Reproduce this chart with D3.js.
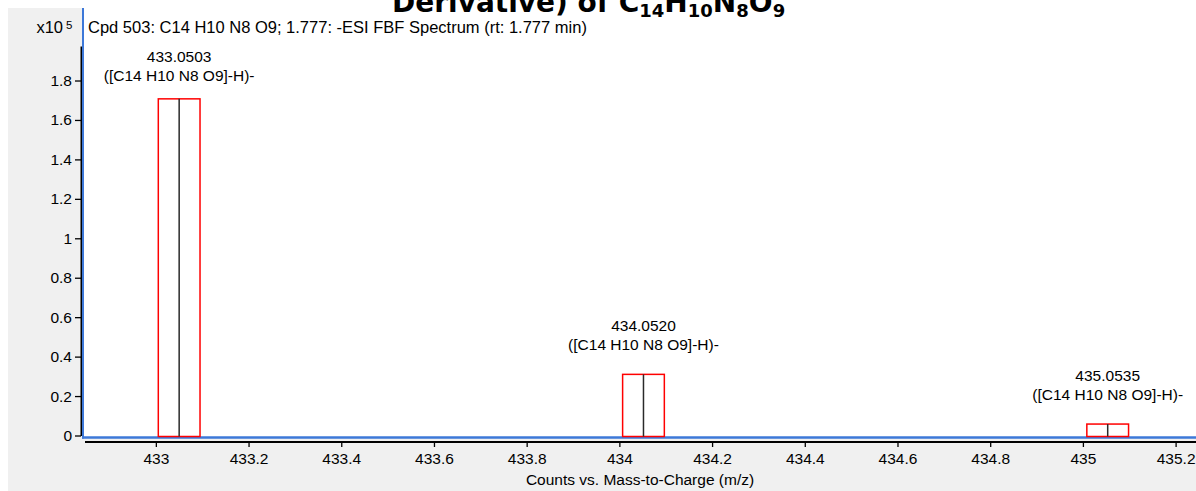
<!DOCTYPE html>
<html>
<head>
<meta charset="utf-8">
<script src="https://cdn.jsdelivr.net/npm/d3@7"></script>
<style>
  body { margin: 0; background: #fff; }
  svg { display: block; }
  text { font-family: "Liberation Sans", Arial, sans-serif; fill: #000; }
</style>
</head>
<body>
<svg id="chart" width="1196" height="491"></svg>
<script>
// Isotope peaks of the deprotonated ion
const peakMz = [433.0503, 434.0520, 435.0535];
const peakCounts = [1.707, 0.31, 0.058];          // counts x10^5
const peakMzLabels = ["433.0503", "434.0520", "435.0535"];
const peakIonLabels = ["([C14 H10 N8 O9]-H)-", "([C14 H10 N8 O9]-H)-", "([C14 H10 N8 O9]-H)-"];
const boxHalfWidth = 0.045;                        // m/z window of the expected isotope box

// Axis ranges and ticks
const xRange = [432.845, 435.244];
const yRange = [0, 1.975];
const xTicks = [433, 433.2, 433.4, 433.6, 433.8, 434, 434.2, 434.4, 434.6, 434.8, 435, 435.2];
const yTicks = [0, 0.2, 0.4, 0.6, 0.8, 1, 1.2, 1.4, 1.6, 1.8];

const plotTitle = "Cpd 503: C14 H10 N8 O9; 1.777: -ESI FBF Spectrum (rt: 1.777 min)";
const xAxisTitle = "Counts vs. Mass-to-Charge (m/z)";

const W = 1196, H = 491;
const svg = d3.select("#chart");

const panel = { left: 8, top: 8 };
const plot = { left: 84, top: 8, right: 1196, bottom: 437 };
const labelFont = "15.5px";

const x = d3.scaleLinear().domain(xRange).range([plot.left, plot.right]);
const y = d3.scaleLinear().domain(yRange).range([435.5, 46]);

// Window background
svg.append("rect")
  .attr("x", panel.left).attr("y", panel.top)
  .attr("width", W - panel.left).attr("height", H - panel.top)
  .attr("fill", "#f0f0f0");

svg.append("rect")
  .attr("x", plot.left).attr("y", plot.top)
  .attr("width", plot.right - plot.left).attr("height", plot.bottom - plot.top)
  .attr("fill", "#fff");

// Y axis
const yAxis = d3.axisLeft(y)
  .tickValues(yTicks)
  .tickFormat(d3.format(""))
  .tickSize(6)
  .tickSizeOuter(0)
  .tickPadding(3);
const gy = svg.append("g").attr("transform", "translate(81,0)").call(yAxis);
gy.select(".domain").attr("stroke", "#000").attr("stroke-width", 2);
gy.selectAll(".tick line").attr("stroke", "#000").attr("stroke-width", 1.3);
gy.selectAll(".tick text").style("font-size", labelFont).attr("fill", "#000");

// X axis
const xAxis = d3.axisBottom(x)
  .tickValues(xTicks)
  .tickFormat(d3.format(""))
  .tickSize(5)
  .tickSizeOuter(0)
  .tickPadding(6);
const gx = svg.append("g").attr("transform", "translate(0,442)").call(xAxis);
gx.select(".domain").attr("stroke", "#000").attr("stroke-width", 2)
  .attr("d", `M${plot.left + 1},0H${plot.right}`);
gx.selectAll(".tick line").attr("stroke", "#000").attr("stroke-width", 1.3);
gx.selectAll(".tick text").style("font-size", labelFont).attr("fill", "#000");

// Blue frame of the plot area
svg.append("line")
  .attr("x1", 83).attr("x2", 83).attr("y1", plot.top).attr("y2", plot.bottom + 1.5)
  .attr("stroke", "#3d78d8").attr("stroke-width", 2);
svg.append("line")
  .attr("x1", 82).attr("x2", plot.right).attr("y1", plot.bottom + 0.5).attr("y2", plot.bottom + 0.5)
  .attr("stroke", "#3d78d8").attr("stroke-width", 2.5);

// Titles
svg.append("text")
  .attr("x", 88).attr("y", 33)
  .style("font-size", "16.5px")
  .text(plotTitle);

svg.append("text")
  .attr("x", 63).attr("y", 33)
  .attr("text-anchor", "end")
  .style("font-size", "16.5px")
  .text("x10");
svg.append("text")
  .attr("x", 66).attr("y", 29)
  .style("font-size", "11.5px")
  .text("5");

svg.append("text")
  .attr("x", (plot.left + plot.right) / 2).attr("y", 485)
  .attr("text-anchor", "middle")
  .style("font-size", labelFont)
  .text(xAxisTitle);

// Peaks: expected isotope box with the measured line inside
const peaks = peakMz.map((mz, i) => ({
  mz, count: peakCounts[i], mzLabel: peakMzLabels[i], ion: peakIonLabels[i]
}));

const gp = svg.append("g");
gp.selectAll("rect.box").data(peaks).join("rect")
  .attr("class", "box")
  .attr("x", d => x(d.mz - boxHalfWidth))
  .attr("y", d => y(d.count))
  .attr("width", d => x(d.mz + boxHalfWidth) - x(d.mz - boxHalfWidth))
  .attr("height", d => y(0) + 1 - y(d.count))
  .attr("fill", "none")
  .attr("stroke", "#ff0000")
  .attr("stroke-width", 1.5);

gp.selectAll("line.stick").data(peaks).join("line")
  .attr("class", "stick")
  .attr("x1", d => x(d.mz)).attr("x2", d => x(d.mz))
  .attr("y1", d => y(d.count)).attr("y2", d => y(0) + 1)
  .attr("stroke", "#2a2a2a")
  .attr("stroke-width", 1.5);

// Two-line peak annotations, kept clear of the plot title
const labelTop = 62;
const firstBaseline = d => Math.max(labelTop, y(d.count) - 43);
const labels = gp.selectAll("text.peak").data(peaks).join("text")
  .attr("class", "peak")
  .attr("text-anchor", "middle")
  .style("font-size", labelFont);
labels.append("tspan")
  .attr("x", d => x(d.mz))
  .attr("y", d => firstBaseline(d))
  .text(d => d.mzLabel);
labels.append("tspan")
  .attr("x", d => x(d.mz))
  .attr("y", d => firstBaseline(d) + 19)
  .text(d => d.ion);

// Heading above the spectrum window (runs off the top edge)
const head = svg.append("text")
  .attr("x", 392).attr("y", 12)
  .style("font-family", "'DejaVu Sans', Verdana, sans-serif")
  .style("font-weight", "bold")
  .style("font-size", "28px");
head.append("tspan").text("Derivative) of C");
[["14", "H"], ["10", "N"], ["8", "O"], ["9", ""]].forEach(([sub, el]) => {
  head.append("tspan").attr("dy", 5).style("font-size", "18px").text(sub);
  if (el) head.append("tspan").attr("dy", -5).text(el);
});
</script>
</body>
</html>
